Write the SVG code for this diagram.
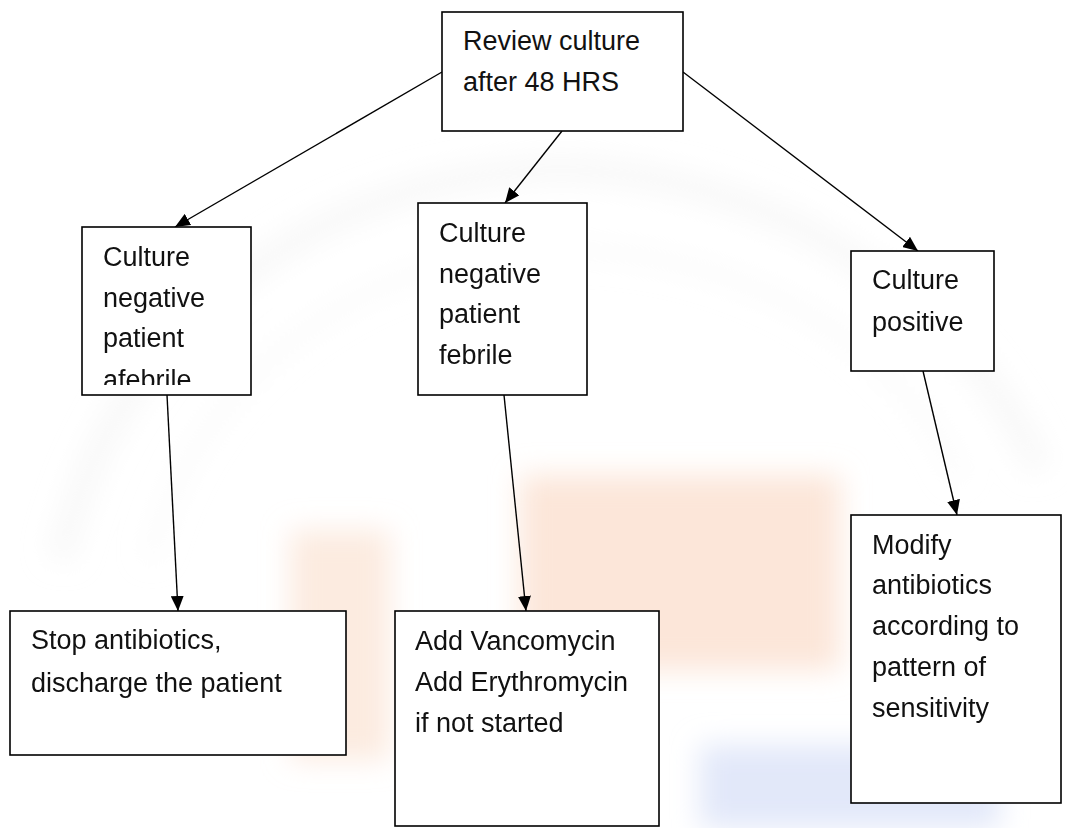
<svg xmlns="http://www.w3.org/2000/svg" width="1067" height="828" viewBox="0 0 1067 828">
  <style>
    .box { fill: #ffffff; stroke: #000000; stroke-width: 1.6; }
    .lbl { font-family: "Liberation Sans", Arial, sans-serif; font-size: 27px; fill: #111111; }
    .edge { stroke: #000000; stroke-width: 1.4; fill: none; marker-end: url(#arrow); }
  </style>
  <defs>
    <marker id="arrow" viewBox="0 0 15 13" refX="15" refY="6.5" markerWidth="15" markerHeight="13" markerUnits="userSpaceOnUse" orient="auto">
      <path d="M0,0 L15,6.5 L0,13 Z" fill="#000000"/>
    </marker>
    <filter id="soft" x="-20%" y="-20%" width="140%" height="140%">
      <feGaussianBlur stdDeviation="14"/>
    </filter>
    <clipPath id="clipA">
      <rect x="82" y="227" width="169" height="158"/>
    </clipPath>
  </defs>

  <rect x="0" y="0" width="1067" height="828" fill="#ffffff"/>

  <g id="watermark" filter="url(#soft)">
    <rect x="520" y="475" width="320" height="195" fill="#fbe0cf" opacity="0.8"/>
    <rect x="290" y="530" width="100" height="230" fill="#fbe3d3" opacity="0.7"/>
    <rect x="700" y="745" width="300" height="83" fill="#dfe5f8" opacity="0.9"/>
    <path d="M60,560 C120,300 350,170 560,170 C760,170 960,290 1040,470" stroke="#f0f0f0" stroke-width="26" fill="none" opacity="0.45"/>
    <path d="M150,560 C200,360 380,250 560,250 C740,250 900,340 960,480" stroke="#f2f2f2" stroke-width="14" fill="none" opacity="0.4"/>
  </g>

  <g id="connectors">
    <line class="edge" x1="442" y1="72" x2="175" y2="227"/>
    <line class="edge" x1="562" y1="131" x2="505" y2="203"/>
    <line class="edge" x1="683" y1="72" x2="918" y2="251"/>
    <line class="edge" x1="167" y1="395" x2="178" y2="611"/>
    <line class="edge" x1="504" y1="395" x2="526" y2="611"/>
    <line class="edge" x1="923" y1="371" x2="957" y2="515"/>
  </g>

  <g id="review">
    <rect class="box" x="442" y="12" width="241" height="119"/>
    <text class="lbl" x="463" y="50">Review culture</text>
    <text class="lbl" x="463" y="91">after 48 HRS</text>
  </g>

  <g id="neg-afebrile">
    <rect class="box" x="82" y="227" width="169" height="168"/>
    <g clip-path="url(#clipA)">
      <text class="lbl" x="103" y="266">Culture</text>
      <text class="lbl" x="103" y="307">negative</text>
      <text class="lbl" x="103" y="347">patient</text>
      <text class="lbl" x="103" y="389">afebrile</text>
    </g>
  </g>

  <g id="neg-febrile">
    <rect class="box" x="418" y="203" width="169" height="192"/>
    <text class="lbl" x="439" y="242">Culture</text>
    <text class="lbl" x="439" y="283">negative</text>
    <text class="lbl" x="439" y="323">patient</text>
    <text class="lbl" x="439" y="364">febrile</text>
  </g>

  <g id="positive">
    <rect class="box" x="851" y="251" width="143" height="120"/>
    <text class="lbl" x="872" y="289">Culture</text>
    <text class="lbl" x="872" y="331">positive</text>
  </g>

  <g id="stop">
    <rect class="box" x="10" y="611" width="336" height="144"/>
    <text class="lbl" x="31" y="649">Stop antibiotics,</text>
    <text class="lbl" x="31" y="692">discharge the patient</text>
  </g>

  <g id="vanco">
    <rect class="box" x="395" y="611" width="264" height="215"/>
    <text class="lbl" x="415" y="650">Add Vancomycin</text>
    <text class="lbl" x="415" y="691">Add Erythromycin</text>
    <text class="lbl" x="415" y="732">if not started</text>
  </g>

  <g id="modify">
    <rect class="box" x="851" y="515" width="210" height="288"/>
    <text class="lbl" x="872" y="554">Modify</text>
    <text class="lbl" x="872" y="594">antibiotics</text>
    <text class="lbl" x="872" y="635">according to</text>
    <text class="lbl" x="872" y="676">pattern of</text>
    <text class="lbl" x="872" y="717">sensitivity</text>
  </g>
</svg>
